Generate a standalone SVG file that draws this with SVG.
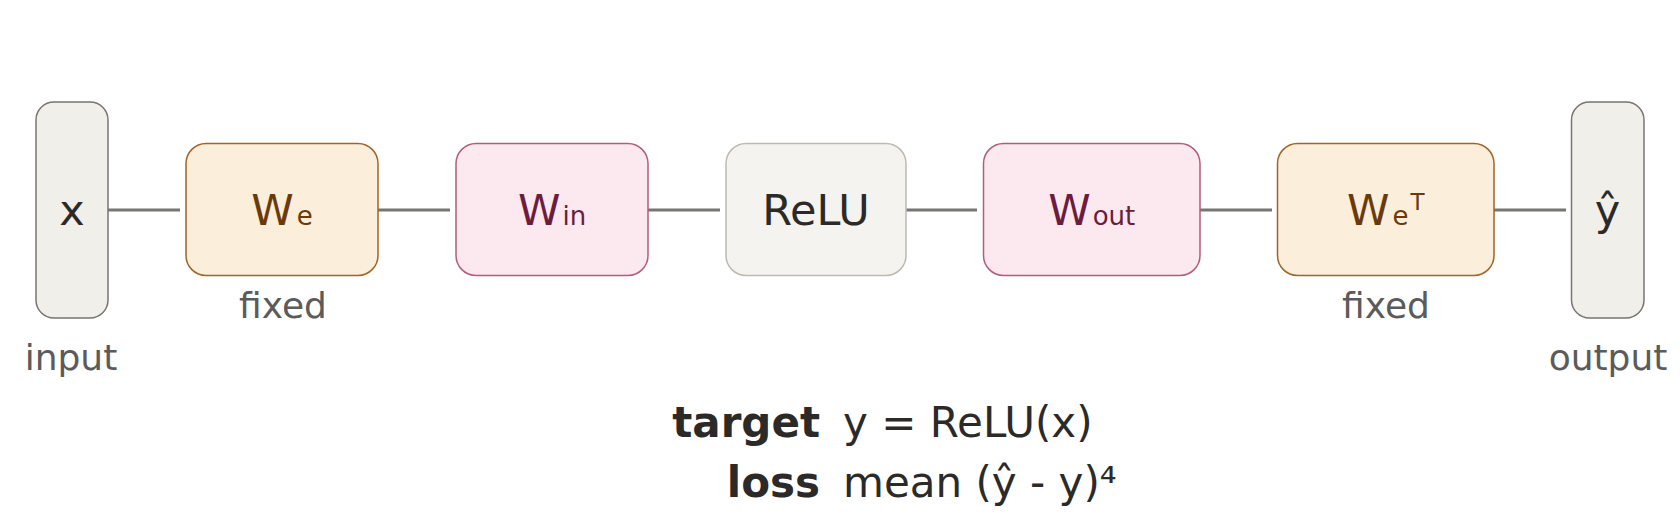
<svg xmlns="http://www.w3.org/2000/svg" width="1680" height="528" viewBox="0 0 1680 528">
<style>
text{font-family:"DejaVu Sans","Liberation Sans",sans-serif;}
.io rect{fill:#f1efe9;stroke:#777672;stroke-width:1.5;}
.emb rect{fill:#fbeedb;stroke:#a0652a;stroke-width:1.5;}
.lin rect{fill:#fbe9ef;stroke:#b35d7c;stroke-width:1.5;}
.act rect{fill:#f4f3ef;stroke:#bdbab2;stroke-width:1.5;}
.main{font-size:43px;text-anchor:middle;fill:#2b2a28;}
.emb .main{fill:#6b3a0c;}
.lin .main{fill:#6e1c3e;}
.sub{font-size:26px;}
.lab{font-size:36px;text-anchor:middle;fill:#5b5b5b;}
.conn line{stroke:#777672;stroke-width:3;}
.eq{font-size:42px;fill:#2b2a28;}
.key{font-weight:bold;text-anchor:end;}
</style>
<g class="conn" id="connectors">
<line x1="108" y1="210" x2="180" y2="210"/>
<line x1="378" y1="210" x2="450" y2="210"/>
<line x1="648" y1="210" x2="720" y2="210"/>
<line x1="906" y1="210" x2="977" y2="210"/>
<line x1="1200" y1="210" x2="1272" y2="210"/>
<line x1="1494" y1="210" x2="1566" y2="210"/>
</g>
<g id="input" class="io">
<rect x="36" y="102" width="72" height="216" rx="18"/>
<text class="main" x="72" y="225">x</text>
<text class="lab" x="71" y="370">input</text>
</g>
<g id="We" class="emb">
<rect x="186" y="143.5" width="192" height="132" rx="20"/>
<text class="main" x="282" y="225">W<tspan class="sub" dx="3">e</tspan></text>
<text class="lab" x="283" y="318">fixed</text>
</g>
<g id="Win" class="lin">
<rect x="456" y="143.5" width="192" height="132" rx="20"/>
<text class="main" x="552" y="225">W<tspan class="sub" dx="2">in</tspan></text>
</g>
<g id="relu" class="act">
<rect x="726" y="143.5" width="180" height="132" rx="20"/>
<text class="main" x="816" y="225">ReLU</text>
</g>
<g id="Wout" class="lin">
<rect x="983.5" y="143.5" width="216.5" height="132" rx="20"/>
<text class="main" x="1091.7" y="225">W<tspan class="sub" dx="2">out</tspan></text>
</g>
<g id="WeT" class="emb">
<rect x="1277.5" y="143.5" width="216.5" height="132" rx="20"/>
<text class="main" x="1385.7" y="225">W<tspan class="sub" dx="3">e</tspan><tspan font-size="23" dx="2" dy="-15">T</tspan></text>
<text class="lab" x="1386" y="318">fixed</text>
</g>
<g id="output" class="io">
<rect x="1571.5" y="102" width="72.5" height="216" rx="18"/>
<text class="main" x="1607.5" y="225">ŷ</text>
<text class="lab" x="1608" y="370">output</text>
</g>
<g id="legend">
<text class="eq key" x="820" y="437">target</text>
<text class="eq" x="843" y="437">y = ReLU(x)</text>
<text class="eq key" x="820" y="497">loss</text>
<text class="eq" x="843" y="497">mean (ŷ - y)⁴</text>
</g>
</svg>
